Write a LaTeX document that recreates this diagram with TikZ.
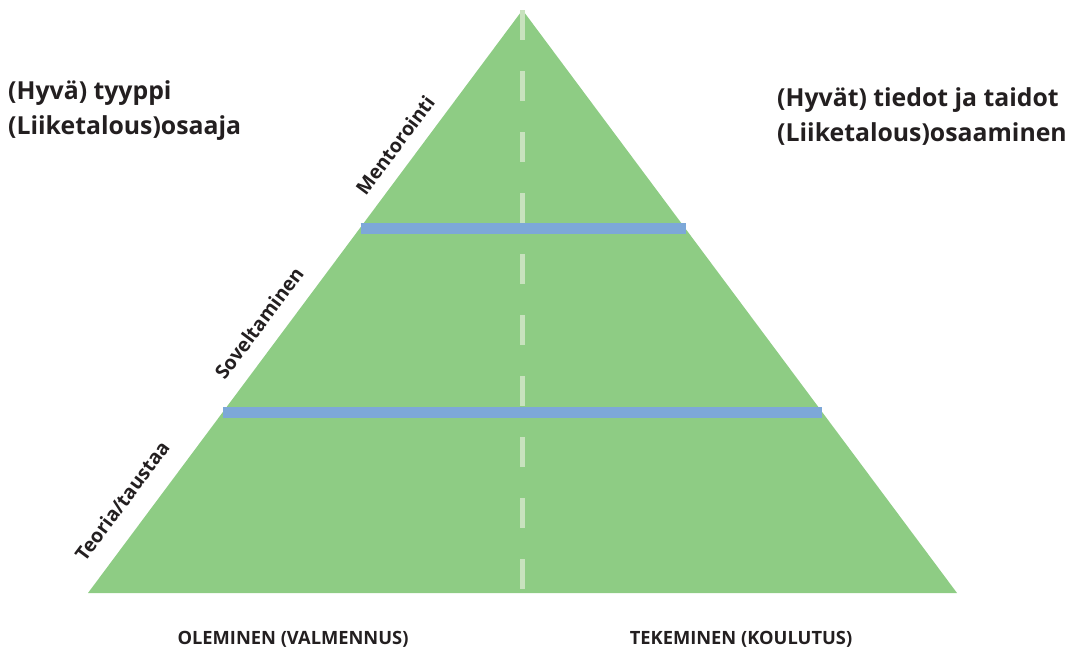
\documentclass[tikz,border=0pt]{standalone}
\usepackage{fontspec}
\setmainfont{Open Sans}
\begin{document}
\definecolor{pyrgreen}{RGB}{142,204,132}
\definecolor{bandblue}{RGB}{125,168,216}
\definecolor{axisgreen}{RGB}{200,226,190}
\definecolor{labelgray}{RGB}{35,31,32}
\begin{tikzpicture}[x=1pt,y=-1pt,
  heading/.style={font=\bfseries\fontsize{24.8}{35}\selectfont, text=labelgray, align=left, inner sep=0pt},
  sidelabel/.style={font=\bfseries\fontsize{19.5}{21}\selectfont, text=labelgray, inner sep=0pt, rotate=53.3},
  baselabel/.style={font=\bfseries\fontsize{18.3}{20}\selectfont, text=labelgray, inner sep=0pt},
  band/.style={draw=bandblue, line width=10.5pt},
  axis/.style={draw=axisgreen, line width=5pt, dash pattern=on 30pt off 31pt}]
\useasboundingbox (0,0) rectangle (1076,651);
% corners of the pyramid
\coordinate (apex) at (522.5,10);
\coordinate (bl) at (88,593);
\coordinate (br) at (957,593);
\fill[pyrgreen] (apex) -- (br) -- (bl) -- cycle;
% centre axis
\coordinate (axtop) at (522.5,10);
\coordinate (axbot) at (522.5,593);
\draw[axis] (axtop) -- (axbot);
% level dividers
\coordinate (b1l) at (360.5,228.5);
\coordinate (b1r) at (685.5,228.5);
\coordinate (b2l) at (223,412.5);
\coordinate (b2r) at (822,412.5);
\draw[band] (b1l) -- (b1r);
\draw[band] (b2l) -- (b2r);
% headings
\node[heading, anchor=west] (hl) at (8,111) {(Hyvä) tyyppi\\(Liiketalous)osaaja};
\node[heading, anchor=west] (hr) at (777,117) {(Hyvät) tiedot ja taidot\\(Liiketalous)osaaminen};
% side labels along the left edge
\node[sidelabel] (teoria) at (122,501) {Teoria/taustaa};
\node[sidelabel] (sovel) at (259,323) {Soveltaminen};
\node[sidelabel] (mentor) at (395,145) {Mentorointi};
% base labels
\node[baselabel] (olem) at (293,639) {OLEMINEN (VALMENNUS)};
\node[baselabel] (tekem) at (741,639) {TEKEMINEN (KOULUTUS)};
\end{tikzpicture}
\end{document}
